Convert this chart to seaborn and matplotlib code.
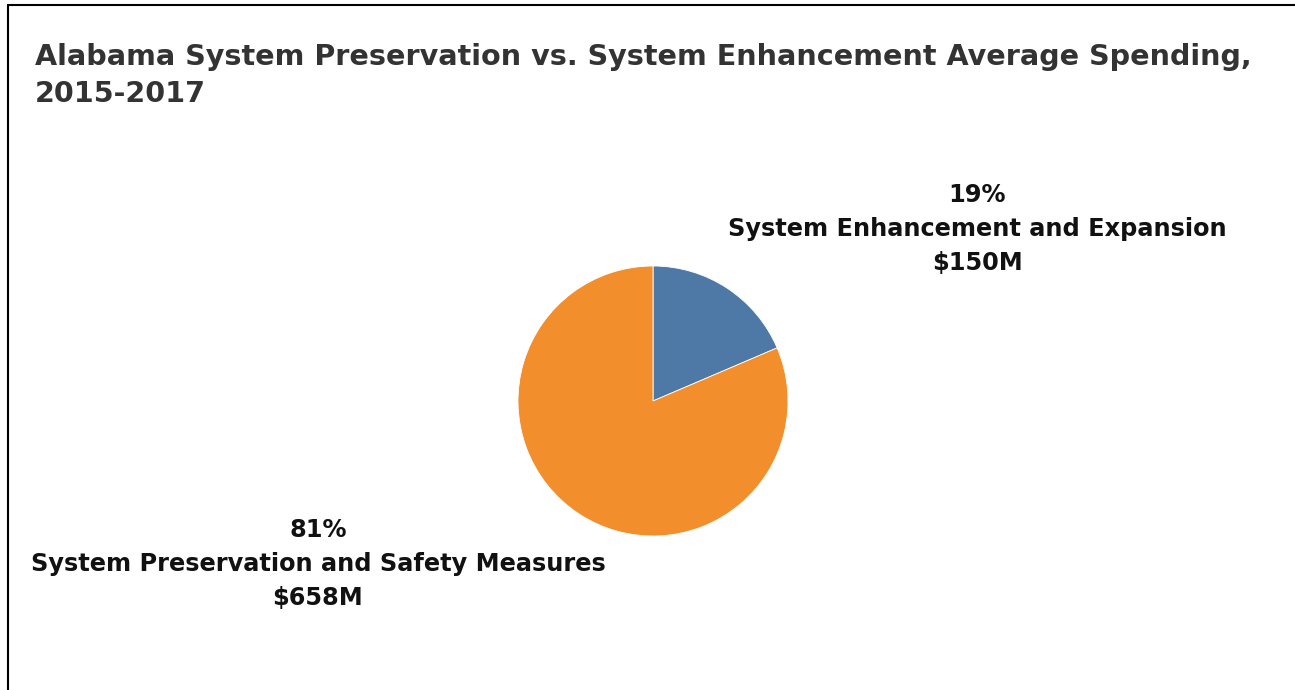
import matplotlib
matplotlib.use("Agg")
import matplotlib.pyplot as plt
from matplotlib.lines import Line2D
import seaborn as sns

# Average annual spending, 2015-2017 (millions of dollars)
categories = ["System Enhancement and Expansion", "System Preservation and Safety Measures"]
spending_musd = [150, 658]
colors = ["#4E79A7", "#F28E2B"]

title = "Alabama System Preservation vs. System Enhancement Average Spending,\n2015-2017"

sns.set_theme(style="white")
plt.rcParams["font.family"] = ["DejaVu Sans"]

W, H = 1295, 690
fig = plt.figure(figsize=(W / 100, H / 100), dpi=100)
fig.patch.set_facecolor("white")

# Pie axes: square region in the middle of the figure
cx, cy, r = 653, 401, 135
ax = fig.add_axes([(cx - r) / W, (H - cy - r) / H, 2 * r / W, 2 * r / H])
ax.pie(spending_musd, colors=colors, startangle=90, counterclock=False,
       wedgeprops=dict(linewidth=0.6, edgecolor="white"))
ax.set_xlim(-1.0, 1.0)
ax.set_ylim(-1.0, 1.0)
ax.set_aspect("equal")
ax.axis("off")

# Frame lines along the top and left edges
fig.add_artist(Line2D([8 / W, 1], [1 - 5 / H, 1 - 5 / H], transform=fig.transFigure,
                      color="black", linewidth=1.5))
fig.add_artist(Line2D([8 / W, 8 / W], [0, 1 - 5 / H], transform=fig.transFigure,
                      color="black", linewidth=1.5))

fig.text(35 / W, 1 - 43 / H, title, ha="left", va="top", fontsize=20.6,
         fontweight="bold", color="#333333", linespacing=1.43)

total = sum(spending_musd)
label_pos = [(977, 229), (318, 564)]
for cat, val, (lx, ly) in zip(categories, spending_musd, label_pos):
    pct = round(val / total * 100)
    txt = f"{pct}%\n{cat}\n${val}M"
    fig.text(lx / W, 1 - ly / H, txt, ha="center", va="center", fontsize=17.3,
             fontweight="bold", color="#111111", linespacing=1.55)

fig.savefig("out.png", dpi=100, facecolor="white")
